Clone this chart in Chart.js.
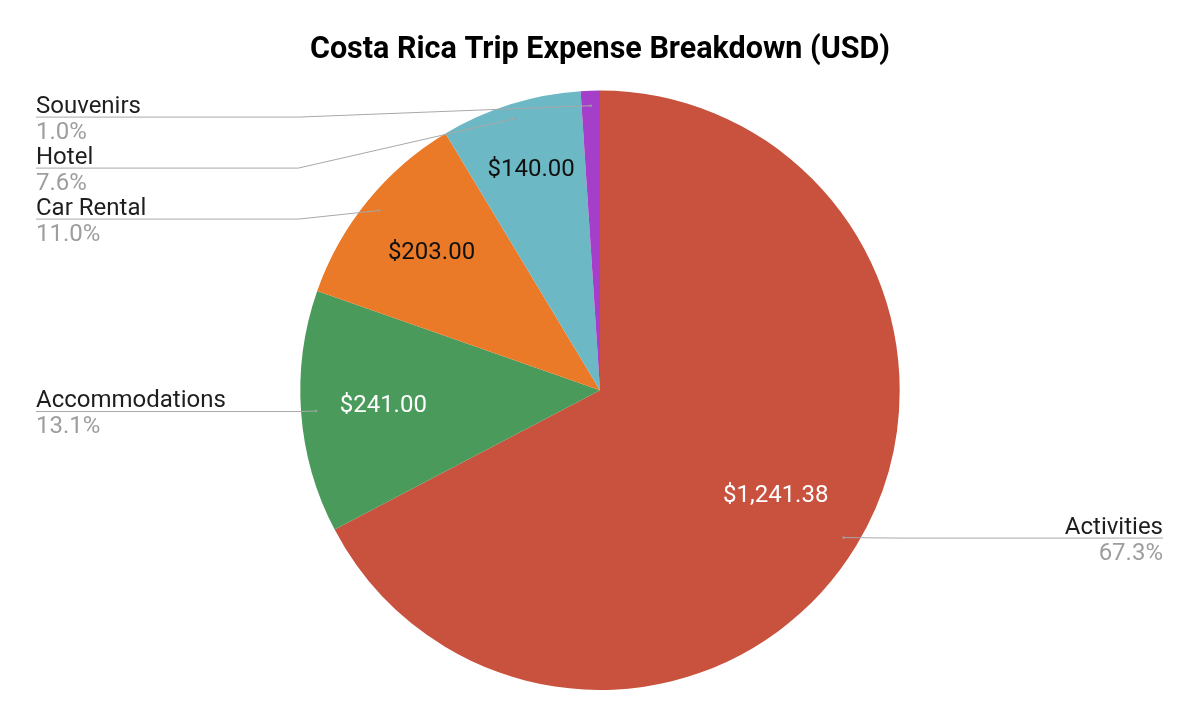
<!DOCTYPE html>
<html>
<head>
<meta charset="utf-8">
<title>Costa Rica Trip Expense Breakdown</title>
<script src="https://cdn.jsdelivr.net/npm/chart.js@4.4.1/dist/chart.umd.min.js"></script>
<style>
  html, body { margin: 0; padding: 0; background: #fff; }
  #wrap { width: 1200px; height: 726px; }
</style>
</head>
<body>
<div id="wrap"><canvas id="chart" width="1200" height="726"></canvas></div>
<script>
/* ---------- Dados ---------- */
const CATEGORIAS = ["Activities", "Accommodations", "Car Rental", "Hotel", "Souvenirs"];
const VALORES = [1241.38, 241.0, 203.0, 140.0, 19.0];
const CORES = ["#c8523d", "#4a9a5b", "#ea7a28", "#6cb8c4", "#a53ec8"];

const FONTE = "Roboto, 'Noto Sans', sans-serif";
const COR_NOME = "#1e1e1e";
const COR_PCT = "#9e9e9e";
const COR_LINHA = "#a8a8a8";

const fmtDolar = (v) =>
  "$" + v.toLocaleString("en-US", { minimumFractionDigits: 2, maximumFractionDigits: 2 });

// luminância simples p/ escolher texto branco ou preto dentro da fatia
function corTexto(hex) {
  const r = parseInt(hex.slice(1, 3), 16);
  const g = parseInt(hex.slice(3, 5), 16);
  const b = parseInt(hex.slice(5, 7), 16);
  return 0.299 * r + 0.587 * g + 0.114 * b > 135 ? "#111111" : "#ffffff";
}

// distância do rótulo de valor ao centro (fração do raio), conforme o tamanho da fatia
function raioRotulo(frac) {
  if (frac > 0.5) return 0.685;
  if (frac < 0.09) return 0.77;
  return 0.725;
}

/* ---------- Plugin: rótulos dentro e fora da pizza ---------- */
const rotulosPizza = {
  id: "rotulosPizza",
  afterDatasetsDraw(chart) {
    const ctx = chart.ctx;
    const meta = chart.getDatasetMeta(0);
    const total = VALORES.reduce((a, b) => a + b, 0);
    const lados = { left: [], right: [] };

    meta.data.forEach((arc, i) => {
      const p = arc.getProps(["x", "y", "startAngle", "endAngle", "outerRadius"], true);
      const meio = (p.startAngle + p.endAngle) / 2;
      const R = p.outerRadius;
      const frac = VALORES[i] / total;

      // valor dentro da fatia
      if (frac > 0.04) {
        const k = raioRotulo(frac);
        ctx.save();
        ctx.font = `24px ${FONTE}`;
        ctx.fillStyle = corTexto(CORES[i]);
        ctx.textAlign = "center";
        ctx.textBaseline = "middle";
        ctx.fillText(fmtDolar(VALORES[i]), p.x + Math.cos(meio) * R * k, p.y + Math.sin(meio) * R * k);
        ctx.restore();
      }

      const ponto = { x: p.x + Math.cos(meio) * R * 0.95, y: p.y + Math.sin(meio) * R * 0.95 };
      const lado = Math.cos(meio) >= 0 ? "right" : "left";
      lados[lado].push({ i, ponto, frac, cx: p.x, cy: p.y, R });
    });

    const topoMin = chart.chartArea.top + 26;
    const passo = 51;

    Object.entries(lados).forEach(([lado, itens]) => {
      itens.sort((a, b) => a.ponto.y - b.ponto.y);
      let ant = -Infinity;
      itens.forEach((it) => {
        it.linhaY = Math.max(it.ponto.y, ant + passo, topoMin);
        ant = it.linhaY;
      });

      itens.forEach((it) => {
        const textoX = lado === "left" ? 36 : chart.width - 37;
        const cotoveloX = lado === "left" ? it.cx - it.R - 2 : it.cx + it.R + 2;
        ctx.save();
        ctx.strokeStyle = COR_LINHA;
        ctx.lineWidth = 1;
        ctx.beginPath();
        ctx.moveTo(textoX, it.linhaY + 0.5);
        const precisaCotovelo = lado === "left" ? it.ponto.x > cotoveloX : it.ponto.x < cotoveloX;
        if (precisaCotovelo) ctx.lineTo(cotoveloX, it.linhaY + 0.5);
        ctx.lineTo(it.ponto.x, it.ponto.y);
        ctx.stroke();

        ctx.fillStyle = "rgba(160,160,160,0.9)";
        ctx.beginPath();
        ctx.arc(it.ponto.x, it.ponto.y, 1.3, 0, Math.PI * 2);
        ctx.fill();

        ctx.textAlign = lado === "left" ? "left" : "right";
        ctx.textBaseline = "alphabetic";
        ctx.font = `24px ${FONTE}`;
        ctx.fillStyle = COR_NOME;
        ctx.fillText(CATEGORIAS[it.i], textoX, it.linhaY - 4);
        ctx.fillStyle = COR_PCT;
        ctx.fillText((it.frac * 100).toFixed(1) + "%", textoX, it.linhaY + 22);
        ctx.restore();
      });
    });
  },
};

/* ---------- Gráfico ---------- */
function init() {
  new Chart(document.getElementById("chart"), {
    type: "pie",
    data: {
      labels: CATEGORIAS,
      datasets: [{ data: VALORES, backgroundColor: CORES, borderWidth: 0 }],
    },
    options: {
      responsive: false,
      animation: false,
      layout: { padding: { top: 0, bottom: 36, left: 0, right: 0 } },
      plugins: {
        legend: { display: false },
        tooltip: { enabled: false },
        title: {
          display: true,
          text: "Costa Rica Trip Expense Breakdown (USD)",
          color: "#000000",
          font: { family: FONTE, size: 30.5, weight: "bold", lineHeight: 1.2 },
          padding: { top: 32, bottom: 22 },
        },
      },
    },
    plugins: [rotulosPizza],
  });
}

document.addEventListener("DOMContentLoaded", init);
</script>
</body>
</html>
